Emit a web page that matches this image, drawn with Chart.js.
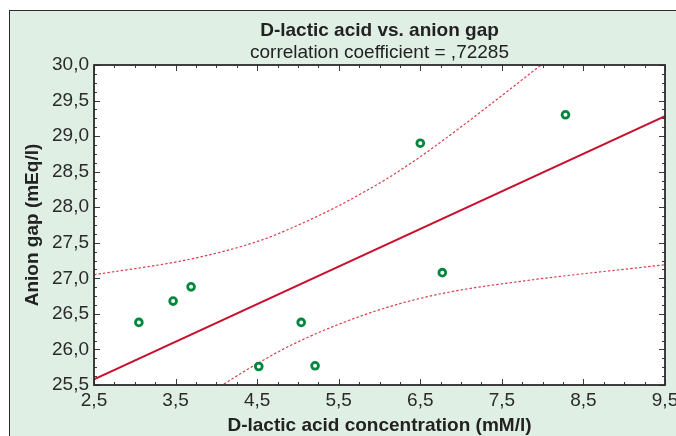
<!DOCTYPE html>
<html>
<head>
<meta charset="utf-8">
<script src="https://cdn.jsdelivr.net/npm/chart.js@4"></script>
<style>
  html, body { margin: 0; padding: 0; background: #fff; overflow: hidden; }
  #frame {
    position: absolute; left: 9px; top: 10px; width: 700px; height: 460px;
    border: 1.5px solid #2b2b2b; background: #e0efe4;
  }
  #chart { position: absolute; left: 0; top: 0; }
</style>
</head>
<body>
<div id="frame"></div>
<canvas id="chart" width="676" height="436"></canvas>
<script>
// measured points
const ptsX = [3.05, 3.47, 3.69, 4.52, 5.04, 5.21, 6.50, 6.77, 8.28];
const ptsY = [26.38, 26.68, 26.88, 25.76, 26.38, 25.77, 28.90, 27.08, 29.30];

// regression line
const fitX = [2.5, 9.5];
const fitY = [25.58, 29.28];

// 95% confidence bands
const upX = [2.5, 3.68, 4.535, 5.025, 5.5, 5.85, 6.09, 6.5, 7.07, 7.97];
const upY = [27.05, 27.27, 27.53, 27.76, 28.02, 28.24, 28.40, 28.71, 29.19, 29.99];
const loX = [4.045, 4.514, 5.025, 5.924, 6.74, 7.88, 8.70, 9.5];
const loY = [25.48, 25.81, 26.12, 26.53, 26.78, 26.98, 27.09, 27.19];

const xTicks = [2.5, 3.5, 4.5, 5.5, 6.5, 7.5, 8.5, 9.5];
const yTicks = [25.5, 26.0, 26.5, 27.0, 27.5, 28.0, 28.5, 29.0, 29.5, 30.0];

const toXY = (xs, ys) => xs.map((x, i) => ({x, y: ys[i]}));
const fmt = v => v.toFixed(1).replace('.', ',');

const FONT = "'Liberation Sans', Arial, sans-serif";
const RED = '#c8102e';

const framePlugin = {
    id: 'frame',
    beforeDraw(chart) {
        const {ctx, chartArea: a} = chart;
        ctx.save();
        ctx.fillStyle = '#ffffff';
        ctx.fillRect(a.left, a.top, a.right - a.left, a.bottom - a.top);
        ctx.restore();
    },
    afterDraw(chart) {
        const {ctx, chartArea: a, scales} = chart;
        ctx.save();
        ctx.strokeStyle = '#3a3a3a';
        ctx.lineWidth = 1;
        ctx.beginPath();
        // inward ticks, x: minor every 0.25, major every 1
        for (let v = 2.5; v <= 9.5001; v += 0.25) {
            const px = Math.round(scales.x.getPixelForValue(v)) + 0.5;
            const len = Math.abs((v - 2.5) % 1) < 1e-6 ? 6 : 3;
            ctx.moveTo(px, a.bottom); ctx.lineTo(px, a.bottom - len);
            ctx.moveTo(px, a.top); ctx.lineTo(px, a.top + len);
        }
        // y: minor every 0.125, major every 0.5
        for (let v = 25.5; v <= 30.0001; v += 0.125) {
            const py = Math.round(scales.y.getPixelForValue(v)) + 0.5;
            const len = Math.abs((v - 25.5) % 0.5) < 1e-6 ? 6 : 3;
            ctx.moveTo(a.left, py); ctx.lineTo(a.left + len, py);
            ctx.moveTo(a.right, py); ctx.lineTo(a.right - len, py);
        }
        ctx.stroke();
        ctx.strokeStyle = '#2b2b2b';
        ctx.lineWidth = 1.8;
        ctx.strokeRect(a.left, a.top, a.right - a.left, a.bottom - a.top);
        ctx.restore();
    }
};

const ctxChart = document.getElementById('chart').getContext('2d');
const myChart = new Chart(ctxChart, {
    type: 'scatter',
    data: {
        datasets: [{
            data: toXY(upX, upY),
            showLine: true,
            borderColor: '#d6404e',
            borderWidth: 1.2,
            borderDash: [2.5, 2],
            pointRadius: 0,
            cubicInterpolationMode: 'monotone',
            order: 3
        }, {
            data: toXY(loX, loY),
            showLine: true,
            borderColor: '#d6404e',
            borderWidth: 1.2,
            borderDash: [2.5, 2],
            pointRadius: 0,
            cubicInterpolationMode: 'monotone',
            order: 3
        }, {
            data: toXY(fitX, fitY),
            showLine: true,
            borderColor: RED,
            borderWidth: 2,
            pointRadius: 0,
            order: 2
        }, {
            data: toXY(ptsX, ptsY),
            pointRadius: 3.4,
            pointBorderWidth: 2.8,
            pointBackgroundColor: '#ffffff',
            pointBorderColor: '#00873d',
            order: 1
        }]
    },
    options: {
        responsive: false,
        animation: false,
        layout: {
            padding: {left: 0, right: 11, top: 0, bottom: 0}
        },
        plugins: {
            title: {
                display: true,
                fullSize: false,
                text: 'D-lactic acid vs. anion gap',
                color: '#222',
                font: {family: FONT, size: 19, weight: 'bold', lineHeight: 1.2},
                padding: {top: 19, bottom: 0}
            },
            subtitle: {
                display: true,
                fullSize: false,
                text: 'correlation coefficient = ,72285',
                color: '#222',
                font: {family: FONT, size: 19, lineHeight: 1.2},
                padding: {top: 0, bottom: 0.4}
            },
            legend: {
                display: false,
            },
            tooltip: {
                enabled: false
            }
        },
        scales: {
            x: {
                type: 'linear',
                min: 2.5,
                max: 9.5,
                afterBuildTicks: s => { s.ticks = xTicks.map(v => ({value: v})); },
                afterFit: s => { s.height = 51; s.paddingLeft = 0; s.paddingRight = 0; },
                grid: {display: false, drawTicks: false},
                border: {display: false},
                ticks: {
                    color: '#2a2a2a',
                    padding: 4,
                    maxRotation: 0,
                    autoSkip: false,
                    font: {family: FONT, size: 19},
                    callback: v => fmt(v)
                },
                title: {
                    display: true,
                    text: 'D-lactic acid concentration (mM/l)',
                    color: '#222',
                    font: {family: FONT, size: 19, weight: 'bold', lineHeight: 1},
                    padding: {top: 0, bottom: 1}
                }
            },
            y: {
                type: 'linear',
                min: 25.5,
                max: 30,
                afterBuildTicks: s => { s.ticks = yTicks.map(v => ({value: v})); },
                afterFit: s => { s.width = 94; },
                grid: {display: false, drawTicks: false},
                border: {display: false},
                ticks: {
                    color: '#2a2a2a',
                    padding: 5,
                    autoSkip: false,
                    font: {family: FONT, size: 19},
                    callback: v => fmt(v)
                },
                title: {
                    display: true,
                    text: 'Anion gap (mEq/l)',
                    color: '#222',
                    font: {family: FONT, size: 19, weight: 'bold', lineHeight: 1},
                    padding: {top: 23, bottom: 0}
                }
            }
        }
    },
    plugins: [framePlugin]
});
</script>
</body>
</html>
